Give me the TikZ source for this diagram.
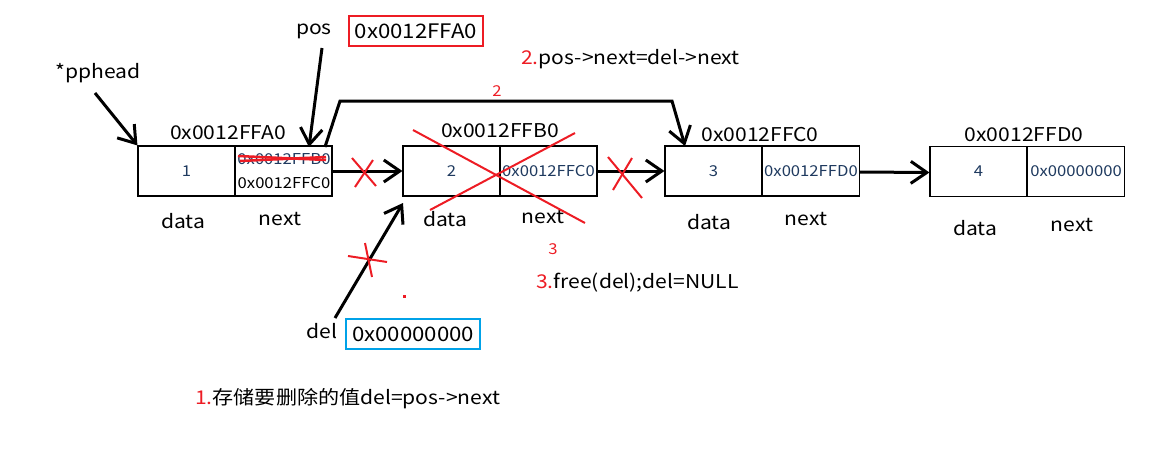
\documentclass[tikz,border=0pt]{standalone}
\usepackage{fontspec}
\setmainfont{Noto Sans CJK SC}[FakeStretch=1.11]
\usetikzlibrary{arrows.meta}
\definecolor{pred}{HTML}{ED1C24}
\definecolor{pblue}{HTML}{00A2E8}
\definecolor{cellink}{HTML}{1F3A5F}

\begin{document}
\begin{tikzpicture}[x=1pt,y=-1pt,
  cell/.style={draw, line width=1.1pt, minimum width=97pt, minimum height=50pt,
    inner sep=0pt, text=cellink, font=\fontsize{15}{15}\selectfont},
  addr/.style={inner sep=0pt, font=\fontsize{19}{19}\selectfont},
  small/.style={inner sep=0pt, text=cellink, font=\fontsize{15}{15}\selectfont},
  note/.style={inner sep=0pt, anchor=west, font=\fontsize{19}{19}\selectfont},
  redlabel/.style={inner sep=0pt, text=pred, font=\fontsize{15}{15}\selectfont},
  link/.style={line width=3pt, -{Straight Barb[length=16pt,width=22pt]}},
  crossmark/.style={draw=pred, line width=2pt},
  valbox/.style={draw, line width=2.5pt, minimum width=134pt, minimum height=30pt,
    inner sep=0pt, font=\fontsize{20}{20}\selectfont}]
\useasboundingbox (0,0) rectangle (1170,448);

% list nodes: data cell + next cell
\node[cell] (d1) at (186.5,171) {1};
\node[cell] (n1) at (283.5,171) {};
\node[cell] (d2) at (451.5,171) {2};
\node[cell] (n2) at (548.5,171) {0x0012FFC0};
\node[cell] (d3) at (713.5,171) {3};
\node[cell] (n3) at (811,171) {0x0012FFD0};
\node[cell] (d4) at (978.5,171.5) {4};
\node[cell] (n4) at (1076,171.5) {0x00000000};

% old and new next pointer of the first node
\node[small] (oldnext) at (284,159) {0x0012FFB0};
\node[small, text=black] (newnext) at (284,183) {0x0012FFC0};
\draw[crossmark, line width=2.5pt] (238,156) -- (326,160);
\draw[crossmark, line width=2.5pt] (240,161) -- (326,157);

% node addresses
\node[addr] (a1) at (228,133) {0x0012FFA0};
\node[addr] (a2) at (500,131) {0x0012FFB0};
\node[addr] (a3) at (760,135) {0x0012FFC0};
\node[addr] (a4) at (1024,135) {0x0012FFD0};

% field names
\node[addr] (f1d) at (183,221) {data};
\node[addr] (f1n) at (280,219) {next};
\node[addr] (f2d) at (445,219) {data};
\node[addr] (f2n) at (543,217) {next};
\node[addr] (f3d) at (709,222) {data};
\node[addr] (f3n) at (806,219) {next};
\node[addr] (f4d) at (975,228) {data};
\node[addr] (f4n) at (1072,225) {next};

% links between nodes
\draw[link] (n1.east) -- (d2.west);
\draw[link] (n2.east) -- (d3.west);
\draw[link] ([yshift=-1pt]n3.east) -- ([yshift=-1pt]d4.west);

% removed links
\draw[crossmark] (352,158) -- (376,186);
\draw[crossmark] (373,160) -- (355,187);
\draw[crossmark] (608,157) -- (642,198);
\draw[crossmark] (632,158) -- (613,190);

% deleted node
\draw[crossmark] (413,130) -- (585,223);
\draw[crossmark] (575,133) -- (430,210);

% head pointer
\node[addr] (head) at (98,73) {*pphead};
\coordinate (headtail) at (95,93);
\draw[link] (headtail) -- (d1.north west);

% pos pointer
\node[addr] (pos) at (314,31) {pos};
\node[valbox, draw=pred] (posval) at (416,31) {0x0012FFA0};
\coordinate (postail) at (322,48);
\coordinate (postip) at (309,147);
\draw[link] (postail) -- (postip);

% step 2: pos->next skips the deleted node
\coordinate (s2start) at (325,147);
\coordinate (s2up) at (340,101);
\coordinate (s2right) at (672,101);
\coordinate (s2tip) at (685,146);
\draw[link] (s2start) -- (s2up) -- (s2right) -- (s2tip);
\node[redlabel] (l2) at (497,91) {2};

% del pointer
\node[addr] (del) at (322,331) {del};
\node[valbox, draw=pblue] (delval) at (413,334) {0x00000000};
\coordinate (deltail) at (335,318);
\coordinate (deltip) at (403,203);
\draw[link] (deltail) -- (deltip);
\draw[crossmark] (348,256) -- (387,262);
\draw[crossmark] (365,243) -- (372,277);
\fill[pred] (402.5,294.5) rectangle (405.5,297.5);

% step descriptions
\node[note] (step2) at (521,59) {\textcolor{pred}{2.}pos->next=del->next};
\node[redlabel] (l3) at (553,249) {3};
\node[note] (step3) at (536,283) {\textcolor{pred}{3.}free(del);del=NULL};
\node[note] (step1) at (195,399) {\textcolor{pred}{1.}存储要删除的值del=pos->next};
\end{tikzpicture}
\end{document}
